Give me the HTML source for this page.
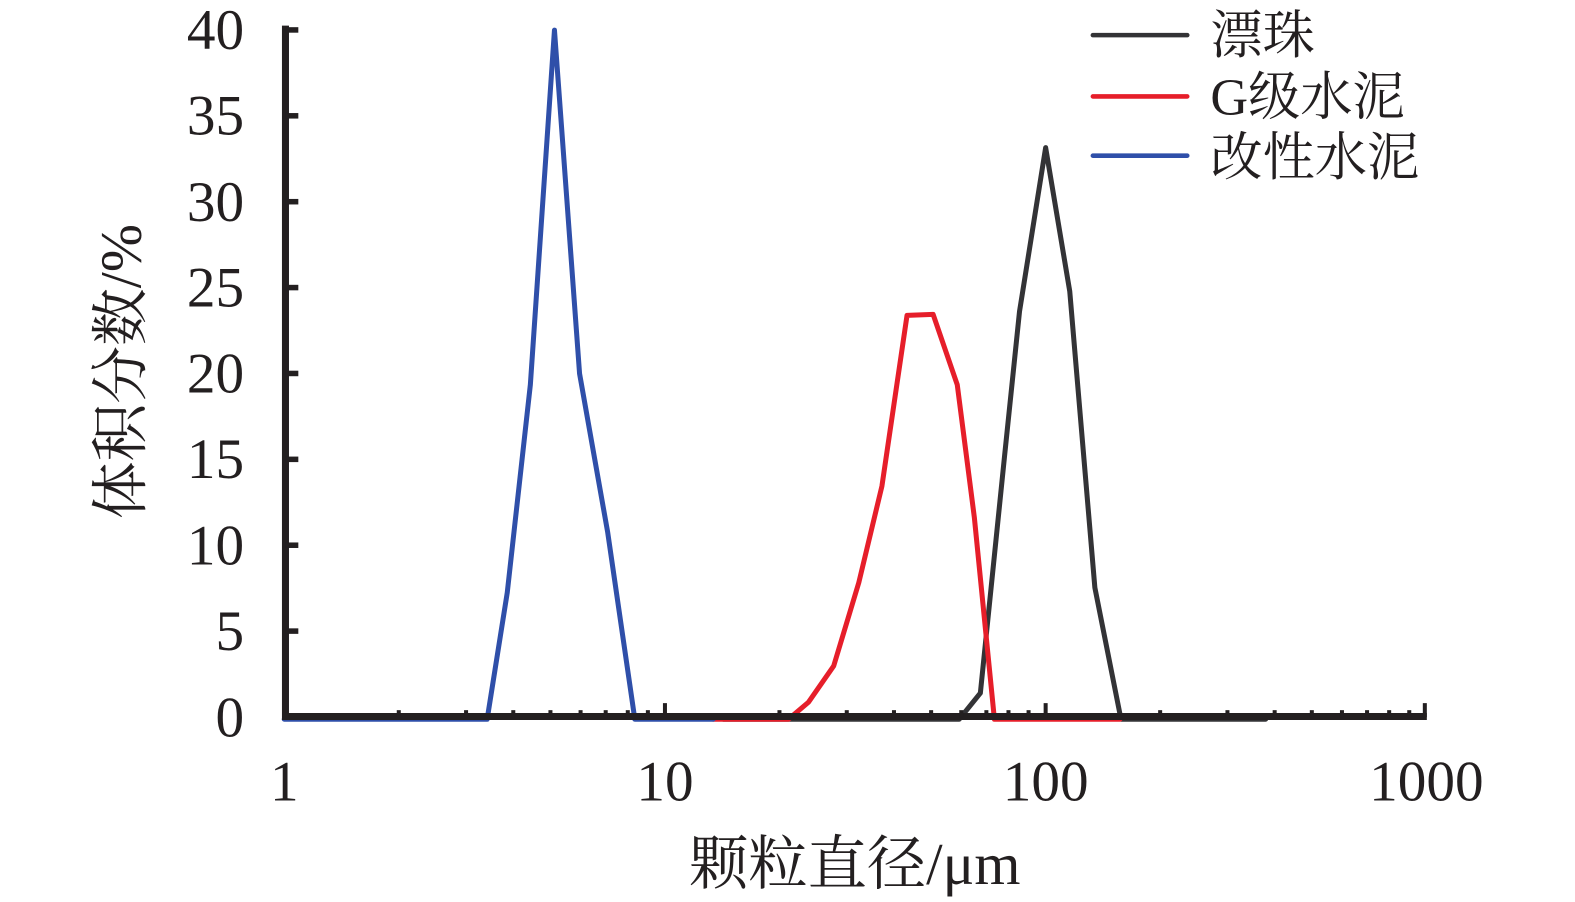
<!DOCTYPE html>
<html><head><meta charset="utf-8"><style>
html,body{margin:0;padding:0;background:#fff;}
svg{display:block;}
</style></head><body>
<svg width="1575" height="902" viewBox="0 0 1575 902" xmlns="http://www.w3.org/2000/svg">
<rect width="1575" height="902" fill="#fff"/>
<g transform="scale(1.00446)">
<!-- series -->
<g fill="none" stroke-width="5" stroke-linejoin="round" stroke-linecap="round">
<path stroke="#333336" d="M720,716 L955,716 L976,690 L1000,455 L1015,310 L1041,147 L1065,290 L1090,585 L1116,716 L1260,716"/>
<path stroke="#e61e2a" d="M710,716 L785,716 L805,699 L830,663 L855,580 L878,484 L903,314 L929,313 L953,383 L970,515 L990,716 L1115,716"/>
<path stroke="#2f4fa9" d="M283,716 L485,716 L505,590 L528,383 L552,30 L577,372 L605,530 L632,716 L710,716"/>
</g>
<!-- axes -->
<g stroke="#231f20" fill="none">
<line x1="284.2" y1="25.5" x2="284.2" y2="716.8" stroke-width="7"/>
<line x1="281" y1="713.3" x2="1420.5" y2="713.3" stroke-width="7"/>
<g stroke-width="5.5">
<line x1="284" y1="29.8" x2="297" y2="29.8"/>
<line x1="284" y1="115.3" x2="297" y2="115.3"/>
<line x1="284" y1="200.8" x2="297" y2="200.8"/>
<line x1="284" y1="286.3" x2="297" y2="286.3"/>
<line x1="284" y1="371.8" x2="297" y2="371.8"/>
<line x1="284" y1="457.3" x2="297" y2="457.3"/>
<line x1="284" y1="542.8" x2="297" y2="542.8"/>
<line x1="284" y1="628.3" x2="297" y2="628.3"/>
</g>
<g stroke-width="4">
<line x1="662" y1="700" x2="662" y2="714"/>
<line x1="1041" y1="700" x2="1041" y2="714"/>
<line x1="1418.5" y1="700" x2="1418.5" y2="714"/>
<line x1="397" y1="707" x2="397" y2="714"/>
<line x1="464" y1="707" x2="464" y2="714"/>
<line x1="511" y1="707" x2="511" y2="714"/>
<line x1="548" y1="707" x2="548" y2="714"/>
<line x1="578" y1="707" x2="578" y2="714"/>
<line x1="603" y1="707" x2="603" y2="714"/>
<line x1="625" y1="707" x2="625" y2="714"/>
<line x1="645" y1="707" x2="645" y2="714"/>
<line x1="776" y1="707" x2="776" y2="714"/>
<line x1="843" y1="707" x2="843" y2="714"/>
<line x1="890" y1="707" x2="890" y2="714"/>
<line x1="927" y1="707" x2="927" y2="714"/>
<line x1="957" y1="707" x2="957" y2="714"/>
<line x1="982" y1="707" x2="982" y2="714"/>
<line x1="1004" y1="707" x2="1004" y2="714"/>
<line x1="1024" y1="707" x2="1024" y2="714"/>
<line x1="1155" y1="707" x2="1155" y2="714"/>
<line x1="1222" y1="707" x2="1222" y2="714"/>
<line x1="1269" y1="707" x2="1269" y2="714"/>
<line x1="1306" y1="707" x2="1306" y2="714"/>
<line x1="1336" y1="707" x2="1336" y2="714"/>
<line x1="1361" y1="707" x2="1361" y2="714"/>
<line x1="1383" y1="707" x2="1383" y2="714"/>
<line x1="1403" y1="707" x2="1403" y2="714"/>
</g>
</g>
<!-- y tick labels -->
<g font-family="'Liberation Serif', serif" font-size="57" fill="#231f20" text-anchor="end">
<text x="243" y="49">40</text>
<text x="243" y="134">35</text>
<text x="243" y="220">30</text>
<text x="243" y="305">25</text>
<text x="243" y="391">20</text>
<text x="243" y="476">15</text>
<text x="243" y="562">10</text>
<text x="243" y="647">5</text>
<text x="243" y="733">0</text>
</g>
<!-- x tick labels -->
<g font-family="'Liberation Serif', serif" font-size="57" fill="#231f20" text-anchor="middle">
<text x="283" y="797">1</text>
<text x="662" y="797">10</text>
<text x="1041" y="797">100</text>
<text x="1420" y="797">1000</text>
</g>
<!-- axis titles -->
<text x="851" y="880" text-anchor="middle" font-family="'Liberation Serif', 'Noto Serif CJK SC', serif" font-size="59" fill="#231f20">颗粒直径/μm</text>
<text transform="translate(140,370) rotate(-90)" text-anchor="middle" font-family="'Liberation Serif', 'Noto Serif CJK SC', serif" font-size="57.5" fill="#231f20">体积分数/%</text>
<!-- legend -->
<g stroke-width="4.5" stroke-linecap="round">
<line x1="1088" y1="35" x2="1182" y2="35" stroke="#333336"/>
<line x1="1088" y1="96" x2="1182" y2="96" stroke="#e61e2a"/>
<line x1="1088" y1="155" x2="1182" y2="155" stroke="#2f4fa9"/>
</g>
<g font-family="'Liberation Serif', 'Noto Serif CJK SC', serif" font-size="52" fill="#231f20">
<text x="1205" y="53">漂珠</text>
<text x="1205" y="114">G级水泥</text>
<text x="1205" y="174">改性水泥</text>
</g>
</g>
</svg>
</body></html>
